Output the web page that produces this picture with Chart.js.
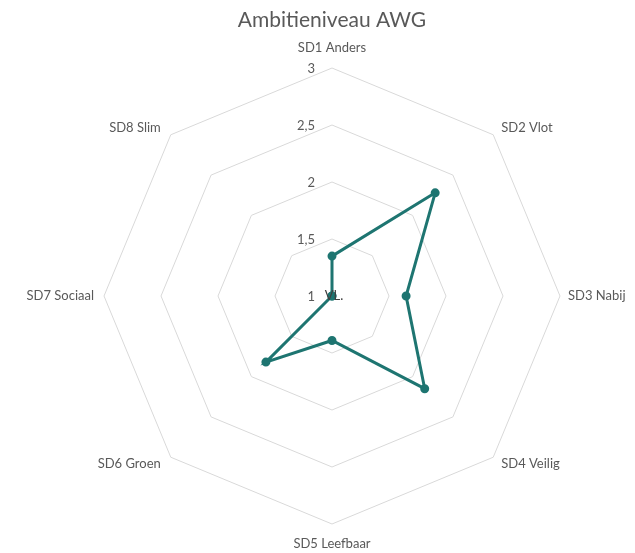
<!DOCTYPE html>
<html>
<head>
<meta charset="utf-8">
<script src="https://cdn.jsdelivr.net/npm/chart.js@4"></script>
<style>
  html, body { margin: 0; padding: 0; background: #fff; }
  #wrap { width: 635px; height: 553px; }
</style>
</head>
<body>
<div id="wrap"><canvas id="myChart" width="635" height="553"></canvas></div>
<script>
// categorieen en waarden
const categories = ['SD1 Anders', 'SD2 Vlot', 'SD3 Nabij', 'SD4 Veilig', 'SD5 Leefbaar', 'SD6 Groen', 'SD7 Sociaal', 'SD8 Slim'];
const ambitie = [1.35, 2.28, 1.65, 2.15, 1.39, 1.82, 1, 1];
const tickValues = [1, 1.5, 2, 2.5, 3];
const tickLabels = ['1', '1,5', '2', '2,5', '3'];
const centerLabel = 'VL.';

const FONT = 'Lato, "Open Sans", sans-serif';

// tick labels links van de as en as-labels zoals Excel ze zet
const labelPlugin = {
    id: 'labelPlugin',
    afterDatasetsDraw(chart) {
        const r = chart.scales.r;
        const c = chart.ctx;
        c.save();
        c.font = '13px ' + FONT;
        c.fillStyle = '#595959';
        c.textAlign = 'right';
        c.textBaseline = 'middle';
        tickValues.forEach(function(v, i) {
            const d = r.getDistanceFromCenterForValue(v);
            c.fillText(tickLabels[i], r.xCenter - 17, r.yCenter - d + 1);
        });

        // as-labels
        const R = r.drawingArea;
        categories.forEach(function(lbl, i) {
            const p = r.getPointPosition(i, R);
            let x = p.x, y = p.y;
            const dx = p.x - r.xCenter, dy = p.y - r.yCenter;
            if (Math.abs(dx) < 1) {
                c.textAlign = 'center';
                y += dy < 0 ? -20 : 20;
            } else {
                c.textAlign = dx > 0 ? 'left' : 'right';
                x += dx > 0 ? 8 : -10;
                if (Math.abs(dy) > 1) y += dy < 0 ? -7 : 7;
            }
            c.fillText(lbl, x, y);
        });

        c.fillStyle = '#404040';
        c.textAlign = 'center';
        c.fillText(centerLabel, r.xCenter + 2, r.yCenter);
        c.restore();
    }
};

const ctx = document.getElementById('myChart').getContext('2d');

const myChart = new Chart(ctx, {
    type: 'radar',
    data: {
        labels: categories,
        datasets: [{
            label: 'AWG',
            data: ambitie,
            borderColor: '#1E7571',
            backgroundColor: '#1E7571',
            pointBackgroundColor: '#1E7571',
            pointBorderColor: '#1E7571',
            borderWidth: 3,
            pointRadius: 3,
            fill: false,
            tension: 0
        }]
    },
    options: {
        responsive: false,
        animation: false,
        locale: 'nl-NL',
        layout: { padding: { top: 0, bottom: 28, left: 103, right: 74 } },
        scales: {
            r: {
                min: 1,
                max: 3,
                ticks: { stepSize: 0.5, display: false },
                grid: { color: '#d9d9d9', lineWidth: 1 },
                angleLines: { display: false },
                pointLabels: { display: false }
            }
        },
        plugins: {
            legend: { display: false },
            tooltip: { enabled: false },
            title: {
                display: true,
                text: 'Ambitieniveau AWG',
                color: '#595959',
                font: { family: FONT, size: 21, weight: 'normal' },
                padding: { top: 8, bottom: 34 }
            }
        }
    },
    plugins: [labelPlugin]
});
</script>
</body>
</html>
